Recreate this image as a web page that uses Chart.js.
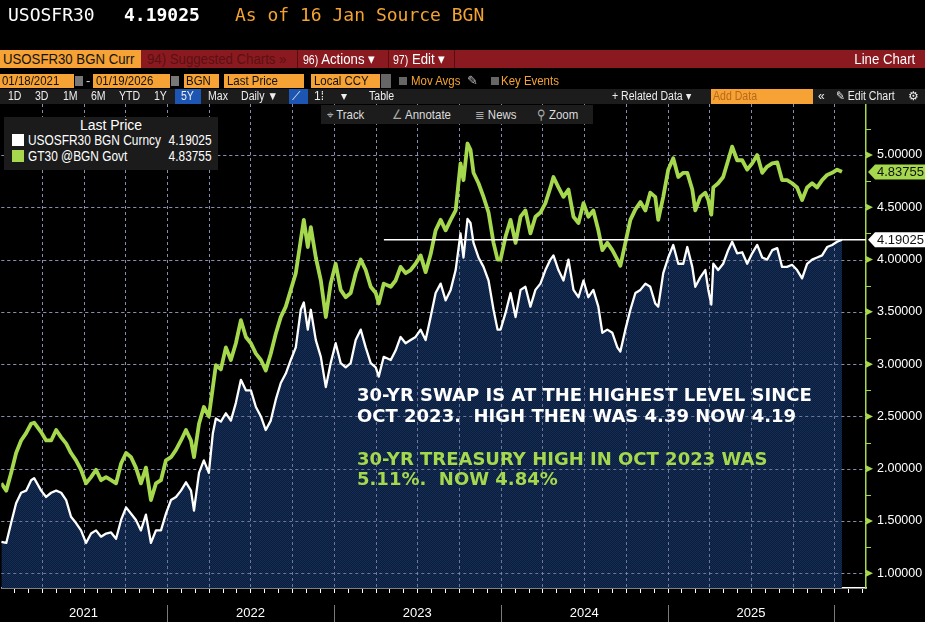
<!DOCTYPE html>
<html><head><meta charset="utf-8">
<script src="https://cdn.jsdelivr.net/npm/chart.js@4.4.1/dist/chart.umd.min.js"></script>
<style>
html,body{margin:0;padding:0;background:#000;width:925px;height:622px;overflow:hidden}
#wrap{position:relative;width:925px;height:622px;background:#000}
canvas{position:absolute;left:0;top:0}
.a{position:absolute;white-space:nowrap}
.mono{font-family:"DejaVu Sans Mono",monospace;font-size:18px;line-height:22px}
.s{font-family:"Liberation Sans",Arial,sans-serif}
.nw{transform:scaleX(.88);transform-origin:0 50%}
.nr{transform:scaleX(.88);transform-origin:100% 50%}
.bar1{font-size:15px;line-height:18px}
.bar2{font-size:13px;line-height:14px}
.bar3{font-size:12px;line-height:15px;color:#eee}
.ob{background:#f6a234}
</style></head><body>
<div id="wrap">
<canvas id="c" width="925" height="622"></canvas>

<div class="a mono" style="left:8px;top:4px;color:#fff">USOSFR30</div>
<div class="a mono" style="left:124px;top:4px;color:#fff;font-weight:bold">4.19025</div>
<div class="a mono" style="left:235px;top:4px;color:#f5a330">As of 16 Jan Source BGN</div>

<div class="a" style="left:0;top:50px;width:925px;height:18px;background:#8a1a1f"></div>
<div class="a ob" style="left:0;top:50px;width:141px;height:18px"></div>
<div class="a s bar1 nw" style="left:3px;top:50px;color:#111">USOSFR30 BGN Curr</div>
<div class="a s bar1 nw" style="left:147px;top:50px;color:#5a1015">94) Suggested Charts »</div>
<div class="a" style="left:297px;top:50px;width:1px;height:18px;background:#5a0c10"></div>
<div class="a s bar1 nw" style="left:303px;top:50px;color:#fff"><span style="font-size:12px">96)</span> Actions ▾</div>
<div class="a" style="left:388px;top:50px;width:1px;height:18px;background:#5a0c10"></div>
<div class="a s bar1 nw" style="left:393px;top:50px;color:#fff"><span style="font-size:12px">97)</span> Edit ▾</div>
<div class="a" style="left:454px;top:50px;width:1px;height:18px;background:#5a0c10"></div>
<div class="a s bar1 nr" style="right:10px;top:50px;color:#fff">Line Chart</div>

<div class="a ob" style="left:0;top:74px;width:74px;height:14px"></div>
<div class="a s bar2 nw" style="left:2px;top:74px;color:#111">01/18/2021</div>
<div class="a" style="left:75px;top:76px;width:8px;height:10px;background:#777"></div>
<div class="a s bar2" style="left:86px;top:74px;color:#ddd">-</div>
<div class="a ob" style="left:93px;top:74px;width:77px;height:14px"></div>
<div class="a s bar2 nw" style="left:96px;top:74px;color:#111">01/19/2026</div>
<div class="a" style="left:171px;top:76px;width:8px;height:10px;background:#777"></div>
<div class="a ob" style="left:184px;top:74px;width:35px;height:14px"></div>
<div class="a s bar2 nw" style="left:186px;top:74px;color:#111">BGN</div>
<div class="a ob" style="left:224px;top:74px;width:80px;height:14px"></div>
<div class="a s bar2 nw" style="left:227px;top:74px;color:#111">Last Price</div>
<div class="a ob" style="left:311px;top:74px;width:69px;height:14px"></div>
<div class="a s bar2 nw" style="left:314px;top:74px;color:#111">Local CCY</div>
<div class="a" style="left:381px;top:74px;width:10px;height:14px;background:#666"></div>
<div class="a" style="left:399px;top:77px;width:8px;height:8px;background:#666"></div>
<div class="a s bar2 nw" style="left:411px;top:74px;color:#f5a330">Mov Avgs</div>
<div class="a s bar2" style="left:467px;top:74px;color:#bbb">✎</div>
<div class="a" style="left:491px;top:77px;width:8px;height:8px;background:#666"></div>
<div class="a s bar2 nw" style="left:501px;top:74px;color:#f5a330">Key Events</div>

<div class="a" style="left:0;top:89px;width:925px;height:15px;background:#1c1c1c"></div>
<div class="a" style="left:175px;top:89px;width:26px;height:15px;background:#1d55b3"></div>
<div class="a" style="left:289px;top:89px;width:19px;height:15px;background:#1d55b3"></div>
<div class="a ob" style="left:711px;top:89px;width:102px;height:15px"></div>
<div class="a s bar3 nw" style="left:8px;top:89px">1D</div>
<div class="a s bar3 nw" style="left:35px;top:89px">3D</div>
<div class="a s bar3 nw" style="left:63px;top:89px">1M</div>
<div class="a s bar3 nw" style="left:91px;top:89px">6M</div>
<div class="a s bar3 nw" style="left:119px;top:89px">YTD</div>
<div class="a s bar3 nw" style="left:154px;top:89px">1Y</div>
<div class="a s bar3 nw" style="left:181px;top:89px">5Y</div>
<div class="a s bar3 nw" style="left:208px;top:89px">Max</div>
<div class="a s bar3 nw" style="left:241px;top:89px">Daily ▼</div>
<div class="a s bar3" style="left:292px;top:89px">⟋</div>
<div class="a s bar3" style="left:314px;top:89px">1⁞</div>
<div class="a s bar3" style="left:341px;top:89px">▾</div>
<div class="a s bar3 nw" style="left:369px;top:89px">Table</div>
<div class="a s bar3 nw" style="left:612px;top:89px">+ Related Data ▾</div>
<div class="a s bar3 nw" style="left:713px;top:89px;color:#b5691c">Add Data</div>
<div class="a s bar3" style="left:818px;top:89px">«</div>
<div class="a s bar3 nw" style="left:836px;top:89px">✎ Edit Chart</div>
<div class="a s bar3" style="left:908px;top:89px">⚙</div>

<div class="a" style="left:321px;top:105px;width:272px;height:19px;background:#1c1c1c"></div>
<div class="a s nw" style="left:327px;top:106px;font-size:13px;line-height:17px;color:#aaa">⌖ <span style="color:#ddd">Track</span></div>
<div class="a s nw" style="left:392px;top:106px;font-size:13px;line-height:17px;color:#aaa">∠ <span style="color:#ddd">Annotate</span></div>
<div class="a s nw" style="left:475px;top:106px;font-size:13px;line-height:17px;color:#aaa">≣ <span style="color:#ddd">News</span></div>
<div class="a s nw" style="left:537px;top:106px;font-size:13px;line-height:17px;color:#aaa">⚲ <span style="color:#ddd">Zoom</span></div>

<div class="a" style="left:4px;top:117px;width:214px;height:53px;background:#1b1b1b"></div>
<div id="legend"></div>
</div>
<script>
// ---- data ----
const years = [2021.007,2021.037,2021.066,2021.096,2021.126,2021.156,2021.186,2021.204,2021.246,2021.276,2021.306,2021.336,2021.366,2021.396,2021.425,2021.455,2021.485,2021.515,2021.545,2021.575,2021.605,2021.635,2021.665,2021.695,2021.725,2021.755,2021.785,2021.814,2021.844,2021.874,2021.904,2021.934,2021.964,2021.994,
2022.024,2022.054,2022.084,2022.114,2022.144,2022.162,2022.192,2022.221,2022.251,2022.275,2022.293,2022.323,2022.353,2022.383,2022.413,2022.443,2022.473,2022.503,2022.533,2022.563,2022.592,2022.622,2022.652,2022.682,2022.712,2022.742,2022.772,2022.802,2022.820,2022.844,2022.862,2022.892,2022.922,2022.952,2022.981,
2023.011,2023.041,2023.071,2023.101,2023.131,2023.161,2023.191,2023.221,2023.251,2023.269,2023.299,2023.341,2023.370,2023.400,2023.430,2023.460,2023.490,2023.520,2023.550,2023.580,2023.610,2023.640,2023.670,2023.700,2023.730,2023.759,2023.777,2023.801,2023.819,2023.837,2023.867,2023.897,2023.927,2023.957,2023.981,2023.999,
2024.029,2024.059,2024.089,2024.119,2024.148,2024.178,2024.208,2024.238,2024.268,2024.298,2024.316,2024.346,2024.376,2024.406,2024.436,2024.466,2024.496,2024.525,2024.555,2024.585,2024.609,2024.639,2024.669,2024.699,2024.717,2024.747,2024.777,2024.807,2024.837,2024.867,2024.896,2024.926,2024.944,2024.974,
2025.004,2025.034,2025.064,2025.094,2025.118,2025.148,2025.166,2025.196,2025.226,2025.244,2025.262,2025.274,2025.303,2025.333,2025.363,2025.387,2025.417,2025.447,2025.477,2025.507,2025.537,2025.567,2025.597,2025.627,2025.657,2025.686,2025.716,2025.746,2025.776,2025.806,2025.836,2025.866,2025.896,2025.926,2025.956,2025.986,2026.016,2026.045];

const swapVals = [1.30,1.29,1.48,1.67,1.77,1.79,1.89,1.91,1.79,1.73,1.77,1.79,1.77,1.70,1.54,1.48,1.41,1.29,1.38,1.41,1.35,1.38,1.39,1.33,1.51,1.63,1.57,1.51,1.41,1.56,1.29,1.41,1.41,1.57,
1.70,1.73,1.79,1.87,1.79,1.60,1.96,2.08,1.96,2.34,2.48,2.45,2.53,2.46,2.63,2.85,2.75,2.75,2.59,2.50,2.37,2.46,2.66,2.82,2.91,3.04,3.16,3.52,3.59,3.33,3.52,3.23,3.07,2.78,3.01,
3.20,3.01,2.97,3.01,3.23,3.33,3.16,3.01,2.97,2.88,3.07,3.04,3.13,3.26,3.20,3.23,3.26,3.33,3.23,3.45,3.68,3.77,3.61,3.71,3.90,4.25,4.02,4.39,4.35,4.16,4.02,3.93,3.80,3.52,3.33,3.33,
3.49,3.68,3.45,3.71,3.74,3.55,3.71,3.77,3.90,4.00,4.04,3.90,3.80,4.00,3.71,3.64,3.80,3.64,3.71,3.55,3.30,3.33,3.30,3.16,3.12,3.33,3.52,3.68,3.71,3.77,3.74,3.58,3.55,3.87,
4.02,4.14,3.96,3.96,4.12,3.93,3.74,3.83,3.90,3.71,3.57,3.96,3.90,3.96,4.09,4.17,4.06,4.07,3.96,4.06,4.14,4.02,4.00,4.09,4.11,3.93,3.93,3.95,3.90,3.82,3.96,4.00,4.02,4.04,4.12,4.14,4.17,4.19];

const tsyVals = [1.86,1.79,1.96,2.15,2.27,2.34,2.43,2.44,2.35,2.27,2.27,2.37,2.30,2.24,2.15,2.08,1.99,1.86,1.92,1.99,1.89,1.92,1.89,1.86,2.05,2.15,2.11,2.01,1.86,2.01,1.70,1.86,1.89,2.08,
2.11,2.18,2.27,2.37,2.27,2.11,2.43,2.59,2.50,2.78,2.99,2.95,3.16,3.04,3.20,3.42,3.26,3.20,3.10,3.04,2.94,3.10,3.29,3.45,3.55,3.71,3.87,4.19,4.38,4.12,4.31,4.02,3.80,3.45,3.77,
3.96,3.71,3.64,3.68,3.87,4.00,3.90,3.74,3.68,3.58,3.77,3.74,3.80,3.93,3.87,3.90,3.96,4.04,3.88,4.05,4.28,4.38,4.28,4.38,4.47,4.92,4.76,5.11,5.05,4.83,4.73,4.60,4.45,4.16,4.00,4.00,
4.22,4.38,4.16,4.41,4.47,4.25,4.41,4.45,4.54,4.69,4.79,4.69,4.60,4.67,4.41,4.35,4.54,4.41,4.47,4.28,4.09,4.16,4.09,4.00,3.94,4.16,4.38,4.48,4.55,4.47,4.64,4.60,4.38,4.60,
4.86,4.97,4.79,4.83,4.83,4.67,4.47,4.60,4.64,4.57,4.43,4.69,4.73,4.79,4.95,5.08,4.95,4.95,4.86,4.92,5.00,4.83,4.89,4.92,4.93,4.76,4.76,4.73,4.69,4.57,4.69,4.73,4.69,4.76,4.81,4.83,4.86,4.84];

const seriesNames = ['USOSFR30 BGN Curncy','GT30 @BGN Govt'];
const lastPrices = [4.19025, 4.83755];
const yearLabels = ['2021','2022','2023','2024','2025'];
const yTickValues = [1.00,1.25,1.50,1.75,2.00,2.25,2.50,2.75,3.00,3.25,3.50,3.75,4.00,4.25,4.50,4.75,5.00,5.25];
const noteSwap = ['30-YR SWAP IS AT THE HIGHEST LEVEL SINCE','OCT 2023.  HIGH THEN WAS 4.39 NOW 4.19'];
const noteTsy = ['30-YR TREASURY HIGH IN OCT 2023 WAS','5.11%.  NOW 4.84%'];
const lastLineStart = 2023.30;

const xMin = 2021.007, xMax = 2026.189;
const yMin = 0.859, yMax = 5.488;

const WHITE = '#ffffff', GREEN = '#a5d84d', GRID = '#808088';

(function(){
  const L = document.getElementById('legend');
  const cols = [WHITE, GREEN];
  let h = '<div class="a s" style="left:4px;top:117px;width:214px;text-align:center;font-size:14px;line-height:16px;color:#fff">Last Price</div>';
  seriesNames.forEach((n,i)=>{
    const t = 133 + i*16;
    h += `<div class="a" style="left:12px;top:${t+1}px;width:12px;height:12px;background:${cols[i]}"></div>`;
    h += `<div class="a s nw" style="left:28px;top:${t}px;font-size:14px;line-height:15px;color:#fff;transform:scaleX(.85)">${n}</div>`;
    h += `<div class="a s nr" style="right:${925-212}px;top:${t}px;font-size:14px;line-height:15px;color:#fff;transform:scaleX(.85)">${lastPrices[i].toFixed(5)}</div>`;
  });
  L.innerHTML = h;
})();

const monthTicks = [];
for (let y = 2021; y <= 2026; y++) for (let m = 0; m < 12; m++) { const v = y + m/12; if (v >= xMin && v <= xMax) monthTicks.push(v); }
const mIdx = v => ((Math.round(v*12) % 12) + 12) % 12;
const isMajorY = v => Math.abs(v*2 - Math.round(v*2)) < 1e-6;

const pc = document.createElement('canvas'); pc.width = 2; pc.height = 2;
const px = pc.getContext('2d');
px.fillStyle = 'rgb(20,46,86)'; px.fillRect(0,0,2,2);
px.fillStyle = 'rgb(10,28,58)'; px.fillRect(1,0,1,1); px.fillRect(0,1,1,1);
const ctx = document.getElementById('c').getContext('2d');
const fillPattern = ctx.createPattern(pc, 'repeat');

// dashed grid drawn from the library's scale ticks
function drawDashedGrid(chart, color) {
  const c = chart.ctx, xs = chart.scales.x, ys = chart.scales.y, ca = chart.chartArea;
  c.save();
  c.beginPath(); c.rect(ca.left, ca.top, ca.right - ca.left, ca.bottom - ca.top); c.clip();
  c.strokeStyle = color; c.lineWidth = 1; c.setLineDash([3,3]);
  xs.ticks.forEach(t => {
    if (mIdx(t.value) % 3 !== 0) return;
    const x = Math.round(xs.getPixelForValue(t.value)) + 0.5;
    c.beginPath(); c.moveTo(x, ca.top); c.lineTo(x, ca.bottom); c.stroke();
  });
  ys.ticks.forEach(t => {
    if (!isMajorY(t.value)) return;
    const y = Math.round(ys.getPixelForValue(t.value)) + 0.5;
    c.beginPath(); c.moveTo(ca.left, y); c.lineTo(ca.right, y); c.stroke();
  });
  c.restore();
}

const overlay = {
  id: 'overlay',
  beforeDatasetsDraw(chart) { drawDashedGrid(chart, GRID); },
  afterDatasetDraw(chart, args) { if (args.index === 0) drawDashedGrid(chart, 'rgba(140,145,185,0.75)'); },
  afterDatasetsDraw(chart) {
    const c = chart.ctx;
    c.save();
    c.font = 'bold 18px "DejaVu Sans"';
    c.textBaseline = 'alphabetic';
    c.fillStyle = WHITE;
    c.fillText(noteSwap[0], 357, 401);
    c.fillText(noteSwap[1], 357, 421.5);
    c.fillStyle = GREEN;
    c.fillText(noteTsy[0], 357, 464.5);
    c.fillText(noteTsy[1], 357, 485);
    c.restore();
  },
  afterDraw(chart) {
    const c = chart.ctx, xs = chart.scales.x, ys = chart.scales.y, ca = chart.chartArea;
    c.save();
    c.strokeStyle = '#ffffff'; c.lineWidth = 1;
    xs.ticks.forEach(t => {
      const x = Math.round(xs.getPixelForValue(t.value)) + 0.5;
      c.beginPath(); c.moveTo(x, ca.bottom + 1); c.lineTo(x, ca.bottom + 5); c.stroke();
    });
    c.strokeStyle = '#7a7a7a';
    for (let y = 2022; y <= 2026; y++) {
      const x = Math.round(xs.getPixelForValue(y)) + 0.5;
      c.beginPath(); c.moveTo(x, 605); c.lineTo(x, 622); c.stroke();
    }
    c.strokeStyle = GREEN; c.fillStyle = GREEN;
    ys.ticks.forEach(t => {
      const y = ys.getPixelForValue(t.value);
      if (isMajorY(t.value)) {
        c.beginPath(); c.moveTo(ca.right, y-3.5); c.lineTo(ca.right+7, y); c.lineTo(ca.right, y+3.5); c.closePath(); c.fill();
      } else {
        const yy = Math.round(y) + 0.5;
        c.beginPath(); c.moveTo(ca.right, yy); c.lineTo(ca.right+5, yy); c.stroke();
      }
    });
    const cols = [WHITE, GREEN];
    lastPrices.forEach((v,i) => {
      const y = ys.getPixelForValue(v);
      c.fillStyle = cols[i];
      c.beginPath();
      c.moveTo(ca.right+2, y); c.lineTo(ca.right+9, y-7.5); c.lineTo(925, y-7.5); c.lineTo(925, y+7.5); c.lineTo(ca.right+9, y+7.5); c.closePath(); c.fill();
      c.fillStyle = '#111';
      c.font = '13px "Liberation Sans"';
      c.textBaseline = 'middle';
      c.fillText(v.toFixed(5), ca.right+11, y+0.5);
    });
    c.restore();
  }
};

new Chart(ctx, {
  type: 'line',
  data: {
    datasets: [
      { label: seriesNames[0] + ' area', data: years.map((x,i)=>({x, y: swapVals[i]})), borderWidth: 0, borderColor: 'rgba(0,0,0,0)', backgroundColor: fillPattern, fill: 'start', pointRadius: 0, order: 4 },
      { label: seriesNames[1], data: years.map((x,i)=>({x, y: tsyVals[i]})), borderColor: GREEN, borderWidth: 3.8, fill: false, pointRadius: 0, order: 3 },
      { label: seriesNames[0], data: years.map((x,i)=>({x, y: swapVals[i]})), borderColor: WHITE, borderWidth: 2.3, fill: false, pointRadius: 0, order: 2 },
      { label: 'last', data: [{x: lastLineStart, y: lastPrices[0]}, {x: xMax, y: lastPrices[0]}], borderColor: WHITE, borderWidth: 1.5, fill: false, pointRadius: 0, order: 1 }
    ]
  },
  options: {
    responsive: false, animation: false, devicePixelRatio: 1,
    layout: { padding: { top: 104, left: 0, right: 0, bottom: 0 } },
    elements: { line: { tension: 0, borderJoinStyle: 'round' } },
    plugins: { legend: { display: false }, tooltip: { enabled: false } },
    scales: {
      x: {
        type: 'linear', min: xMin, max: xMax,
        afterFit(s) { s.height = 34; },
        afterBuildTicks(s) { s.ticks = monthTicks.map(v => ({ value: v })); },
        grid: { display: false, drawTicks: true, tickLength: 4 },
        border: { display: true, color: '#ffffff', width: 1.5 },
        ticks: { autoSkip: false, maxRotation: 0, minRotation: 0, padding: 14, color: '#ffffff', font: { family: 'Liberation Sans', size: 13 },
          callback: v => mIdx(v) === 6 ? yearLabels[Math.floor(v) - 2021] : '' }
      },
      y: {
        position: 'right', min: yMin, max: yMax,
        afterFit(s) { s.width = 59; },
        afterBuildTicks(s) { s.ticks = yTickValues.map(v => ({ value: v })); },
        grid: { display: false, drawTicks: true, tickLength: 5 },
        border: { display: true, color: GREEN, width: 1.5 },
        ticks: { padding: 6, color: '#ffffff', font: { family: 'Liberation Sans', size: 12.5 },
          callback: v => isMajorY(v) ? v.toFixed(5) : '' }
      }
    }
  },
  plugins: [overlay]
});
</script>
</body></html>
